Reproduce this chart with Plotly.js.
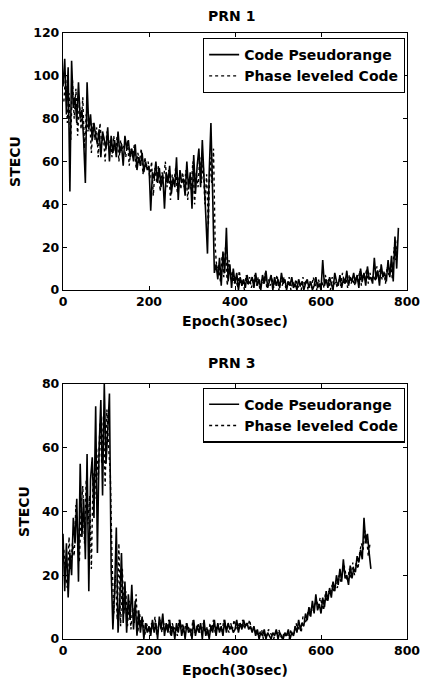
<!DOCTYPE html>
<html>
<head>
<meta charset="utf-8">
<script src="https://cdn.plot.ly/plotly-3.0.1.min.js"></script>
<style>html,body{margin:0;padding:0;background:#fff;}#chart{width:421px;height:681px;}</style>
</head>
<body>
<div id="chart"></div>
<script>
// ---- Data ----
// PRN 1, code pseudorange, every 4 epochs from epoch 0
var prn1CodeStart = 0, prn1CodeStep = 4;
var prn1Code = [
  95,108,82,104,46,107,85,90,78,97,
  80,84,70,50,97,75,82,70,78,72,
  68,75,62,74,70,66,76,60,72,64,
  70,62,74,64,68,58,72,66,70,62,
  66,60,68,56,62,58,64,55,60,56,
  58,37,55,52,60,50,57,48,54,38,
  55,50,58,45,52,48,62,42,56,50,
  52,44,60,47,55,38,63,45,58,66,
  48,70,52,35,17,55,78,45,8,12,
  5,15,2,18,8,29,4,12,1,10,
  3,8,0,6,2,5,1,7,3,4,
  6,1,8,2,5,0,7,3,9,1,
  4,7,0,6,2,5,1,8,3,5,
  0,4,2,6,1,3,0,5,2,4,
  0,3,5,1,4,0,2,6,1,3,
  0,14,2,5,1,6,3,0,8,4,
  2,7,1,5,3,9,2,6,4,8,
  3,7,1,10,4,8,2,11,5,6,
  3,15,5,9,2,12,6,8,4,14,
  6,16,4,25,10,29
];
// PRN 1, phase leveled code, every 4 epochs from epoch 2
var prn1PhaseStart = 2, prn1PhaseStep = 4;
var prn1Phase = [
  88,100,78,92,70,98,80,94,72,88,
  75,90,66,82,74,80,64,78,70,76,
  62,78,68,72,60,74,66,70,62,72,
  64,72,60,70,66,68,62,70,58,66,
  62,68,57,64,60,66,54,62,58,60,
  52,60,44,57,50,58,46,55,52,60,
  48,56,42,54,50,57,45,53,47,55,
  48,56,42,52,47,60,40,55,48,62,
  50,60,40,54,30,62,50,66,20,9,
  12,4,16,6,20,2,14,5,9,3,
  6,1,9,3,5,0,7,2,6,1,
  4,7,2,6,0,5,3,8,1,5,
  2,6,1,4,7,0,5,2,6,1,
  3,6,0,4,2,5,1,3,0,6,
  2,5,0,4,1,6,3,0,5,2,
  4,1,7,3,5,0,6,2,4,1,
  5,2,8,4,6,1,7,3,5,2,
  6,4,9,2,7,5,10,3,8,4,
  7,4,11,6,10,5,9,3,11,7,
  12,5,20,14,24
];
// PRN 3, code pseudorange, every 4 epochs from epoch 0
var prn3CodeStart = 0, prn3CodeStep = 4;
var prn3Code = [
  33,15,30,13,27,20,38,30,44,18,
  55,32,44,25,58,15,50,57,38,73,
  27,60,75,45,80,55,65,77,22,3,
  15,35,2,12,27,5,18,2,14,6,
  17,3,12,1,9,2,7,0,5,2,
  4,1,6,2,5,0,7,3,8,1,
  5,2,6,1,4,0,5,2,6,1,
  4,0,5,2,3,0,6,1,4,2,
  5,0,6,1,3,0,4,2,6,1,
  5,2,4,1,6,2,5,3,4,2,
  3,6,2,5,3,6,4,5,3,4,
  2,4,1,3,0,2,1,3,0,2,
  1,0,2,1,3,0,2,1,0,2,
  1,3,0,2,1,4,2,6,3,5,
  4,8,6,10,7,12,8,14,9,11,
  8,13,10,15,12,16,13,18,15,20,
  17,22,18,25,19,20,17,23,19,22,
  21,26,24,28,25,38,30,33,27,22
];
// PRN 3, phase leveled code, every 4 epochs from epoch 2
var prn3PhaseStart = 2, prn3PhaseStep = 4;
var prn3Phase = [
  28,20,16,32,22,30,26,42,35,24,
  40,48,30,50,36,45,22,52,44,60,
  50,68,55,70,48,72,60,52,25,8,
  20,6,30,4,22,8,15,4,12,3,
  10,5,14,2,8,4,6,1,5,3,
  2,5,3,7,1,4,6,2,5,3,
  3,6,1,5,3,4,1,6,3,5,
  2,5,3,4,1,6,2,3,5,2,
  3,5,2,4,1,5,3,6,2,4,
  3,5,2,6,3,4,2,5,3,6,
  4,3,5,4,6,3,5,4,6,3,
  4,2,3,1,2,3,0,2,1,3,
  2,1,0,2,1,3,1,0,2,1,
  2,0,3,1,2,5,3,4,2,7,
  6,5,9,7,10,9,11,12,10,13,
  11,9,14,12,15,14,17,15,18,16,
  20,18,21,23,20,18,22,19,24,20,
  24,22,27,30,28,34,32,26,30
];
var seriesNames = ["Code Pseudorange", "Phase leveled Code"];
var titles = ["PRN 1", "PRN 3"];
var xTitle = "Epoch(30sec)";
var yTitle = "STECU";
var xTicks = [0, 200, 400, 600, 800];
var y1Ticks = [0, 20, 40, 60, 80, 100, 120];
var y2Ticks = [0, 20, 40, 60, 80];

function epochs(arr, start, step) { return arr.map(function (_, i) { return start + i * step; }); }

var FONT = "DejaVu Sans, Liberation Sans, sans-serif";
var codeLine = {color: "#000", width: 1.6, simplify: false};
var phaseLine = {color: "#000", width: 1.4, dash: "dot", simplify: false};
var traces = [
  {x: epochs(prn1Code, prn1CodeStart, prn1CodeStep), y: prn1Code, name: seriesNames[0], type: "scatter", mode: "lines",
   line: codeLine, xaxis: "x", yaxis: "y", legend: "legend"},
  {x: epochs(prn1Phase, prn1PhaseStart, prn1PhaseStep), y: prn1Phase, name: seriesNames[1], type: "scatter", mode: "lines",
   line: phaseLine, xaxis: "x", yaxis: "y", legend: "legend"},
  {x: epochs(prn3Code, prn3CodeStart, prn3CodeStep), y: prn3Code, name: seriesNames[0], type: "scatter", mode: "lines",
   line: codeLine, xaxis: "x2", yaxis: "y2", legend: "legend2"},
  {x: epochs(prn3Phase, prn3PhaseStart, prn3PhaseStep), y: prn3Phase, name: seriesNames[1], type: "scatter", mode: "lines",
   line: phaseLine, xaxis: "x2", yaxis: "y2", legend: "legend2"}
];

var tickFont = {family: FONT, size: 12.5, color: "#000", weight: "bold"};
function xAxis(anchor) {
  return {anchor: anchor, domain: [0, 1], range: [0, 800], tickvals: xTicks, ticks: "inside", ticklen: 4,
    showline: true, mirror: "ticks", linecolor: "#000", linewidth: 1.2, tickcolor: "#000", showgrid: false,
    zeroline: false, tickfont: tickFont,
    title: {text: xTitle, font: {family: FONT, size: 14, color: "#000", weight: "bold"}, standoff: 8}};
}
function yAxis(anchor, dom, maxV, ticks) {
  return {anchor: anchor, domain: dom, range: [0, maxV], tickvals: ticks, ticks: "inside", ticklen: 4,
    showline: true, mirror: "ticks", linecolor: "#000", linewidth: 1.2, tickcolor: "#000", showgrid: false,
    zeroline: false, tickfont: tickFont,
    title: {text: yTitle, font: {family: FONT, size: 14, color: "#000", weight: "bold"}, standoff: 9}};
}
var legendBase = {xref: "paper", yref: "paper", xanchor: "right", yanchor: "top", bgcolor: "#fff",
  bordercolor: "#000", borderwidth: 1.2, font: {family: FONT, size: 14, color: "#000", weight: "bold"},
  tracegroupgap: 0, itemwidth: 30};
var layout = {
  width: 421, height: 681, margin: {l: 63, r: 14, t: 33, b: 42},
  paper_bgcolor: "#fff", plot_bgcolor: "#fff", showlegend: true,
  xaxis: xAxis("y"), yaxis: yAxis("x", [0.5759, 1], 120, y1Ticks),
  xaxis2: xAxis("y2"), yaxis2: yAxis("x2", [0, 0.4208], 80, y2Ticks),
  legend: Object.assign({x: 0.994, y: 0.992}, legendBase),
  legend2: Object.assign({x: 0.994, y: 0.415}, legendBase),
  annotations: [
    {text: titles[0], xref: "paper", yref: "paper", x: 0.49, y: 1, yshift: 17, showarrow: false,
     xanchor: "center", yanchor: "middle", font: {family: FONT, size: 14, color: "#000", weight: "bold"}},
    {text: titles[1], xref: "paper", yref: "paper", x: 0.49, y: 0.4208, yshift: 21, showarrow: false,
     xanchor: "center", yanchor: "middle", font: {family: FONT, size: 14, color: "#000", weight: "bold"}}
  ]
};
Plotly.newPlot("chart", traces, layout, {displayModeBar: false, staticPlot: true});
</script>
</body>
</html>
